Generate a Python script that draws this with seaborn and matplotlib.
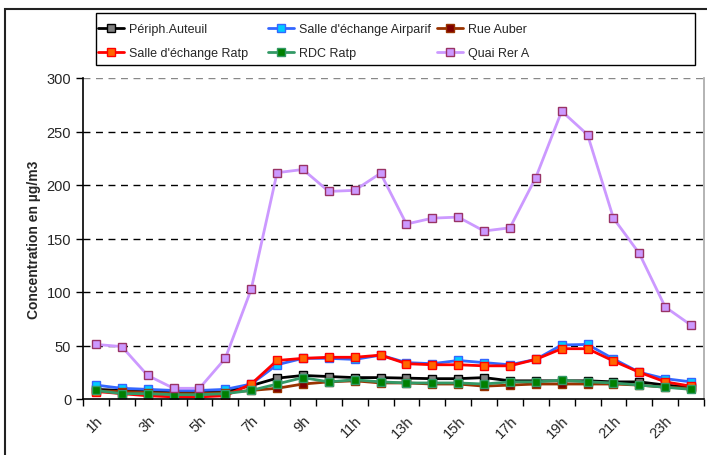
import pandas as pd
import matplotlib.pyplot as plt
import matplotlib.transforms as mtransforms
import seaborn as sns
from matplotlib.patches import Rectangle

sns.set_theme(style="white")
plt.rcParams['font.family'] = ['Liberation Sans', 'DejaVu Sans']

# hours 1h..24h
hours = [f"{h}h" for h in range(1, 25)]

periph_auteuil = [9, 8, 7, 6, 6, 7, 12.5, 19.5, 22, 21, 20, 20,
                  19.5, 19, 19, 20, 17, 17, 17, 17, 16, 16, 13, 11]
airparif = [13, 10, 9, 8, 8, 9, 14, 32, 38, 38, 37, 41,
            34, 33, 36, 34, 32, 37, 50.5, 51, 37.5, 25, 19, 16]
rue_auber = [7.5, 7, 6, 5, 5, 6, 8, 10, 14, 16, 17, 15,
             15, 14, 14, 12, 13, 14, 14, 14, 14, 13, 11, 10]
salle_ratp = [7, 5, 3, 2, 2, 3, 14, 36, 38, 39, 39, 41,
              33, 32, 32, 31, 31, 37, 47, 47, 35.5, 25, 16, 12]
rdc_ratp = [8, 5, 5, 4, 4, 5, 8, 14, 20, 16, 18, 16,
            15, 15, 15, 14, 16, 16, 17.5, 16, 15, 13, 11, 9]
quai_rer_a = [51, 49, 22, 10, 10, 38, 102.5, 211.5, 214.5, 194, 195, 211,
              163.5, 169, 170, 157, 160, 207, 269, 247, 169, 136, 86, 69]

series = [
    ("Périph.Auteuil", periph_auteuil, "black", "#808080", "black"),
    ("Salle d'échange Airparif", airparif, "#3366ff", "#00ccff", "#3366ff"),
    ("Rue Auber", rue_auber, "#993300", "#800000", "#993300"),
    ("Salle d'échange Ratp", salle_ratp, "#ff0000", "#ff6600", "#ff0000"),
    ("RDC Ratp", rdc_ratp, "#339966", "#008000", "#339966"),
    ("Quai Rer A", quai_rer_a, "#cc99ff", "#cc99ff", "#993366"),
]

fig = plt.figure(figsize=(7.07, 4.56), dpi=100)
ax = fig.add_axes([83 / 707, 1 - 400 / 456, 621 / 707, 321 / 456])

pos = list(range(len(hours)))
for name, vals, lc, fc, ec in series:
    df = pd.DataFrame({"pos": pos, "val": vals})
    sns.lineplot(data=df, x="pos", y="val", ax=ax, color=lc, lw=2,
                 marker="s", markersize=6, markerfacecolor=fc,
                 markeredgecolor=ec, markeredgewidth=1, label=name)

ax.set_xlim(-0.5, 23.5)
ax.set_ylim(0, 300)
ax.set_yticks(range(0, 301, 50))
ax.set_xticks([i - 0.5 for i in range(25)], minor=True)
ax.set_xticks(pos[::2])
ax.set_xticklabels(hours[::2], rotation=45, fontsize=10.5,
                   ha="right", rotation_mode="anchor")
shift = mtransforms.ScaledTranslation(-11 / 100, 0, fig.dpi_scale_trans)
for lab in ax.get_xticklabels():
    lab.set_transform(lab.get_transform() + shift)
ax.tick_params(axis="x", which="major", length=0, pad=10)
ax.tick_params(axis="x", which="minor", direction="out", length=5, width=1, color="black", bottom=True)
ax.tick_params(axis="y", direction="out", length=5, width=1, color="black", left=True, labelsize=10.5)
ax.set_xlabel("")
ax.set_ylabel("Concentration en µg/m3", fontsize=10, fontweight="bold")
for y in range(50, 301, 50):
    ax.axhline(y, color="black" if y < 300 else "#888888", lw=1, ls=(0, (5, 4)), zorder=0)

ax.spines["left"].set_color("black")
ax.spines["bottom"].set_color("black")
ax.spines["left"].set_linewidth(1.2)
ax.spines["bottom"].set_linewidth(1.2)
ax.spines["top"].set_visible(False)
ax.spines["right"].set_color("#aaaaaa")

ax.get_legend().remove()
handles, labels = ax.get_legend_handles_labels()
# legend laid out row-wise in three fixed columns, like the original
col_x = [98, 268, 437]
for c, x0 in enumerate(col_x):
    idx = [c, c + 3]
    fig.legend([handles[i] for i in idx], [labels[i] for i in idx],
               ncol=1, loc="upper left",
               bbox_to_anchor=(x0 / 707, 1 - 24 / 456),
               fontsize=9, frameon=False,
               handlelength=2.1, handletextpad=0.4,
               borderpad=0, labelspacing=0.95, borderaxespad=0)

fig.patches.append(Rectangle((96 / 707, 1 - 66 / 456), 599 / 707, 52 / 456,
                             transform=fig.transFigure, fill=False,
                             edgecolor="black", lw=1))
fig.patches.append(Rectangle((5 / 707, -0.1), 1.1, 1 - 10 / 456 + 0.1,
                             transform=fig.transFigure, fill=False,
                             edgecolor="#222222", lw=1.5))

fig.savefig("out.png", dpi=100)
